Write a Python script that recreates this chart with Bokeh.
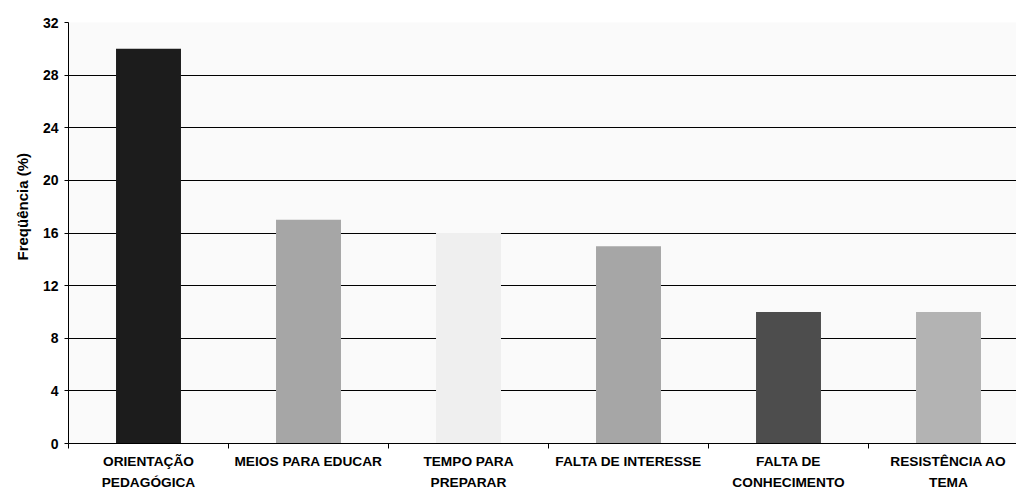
from bokeh.plotting import figure
from bokeh.models import Range1d, FixedTicker, Title, ColumnDataSource
from bokeh.embed import file_html
from bokeh.resources import INLINE

categories = ["ORIENTAÇÃO\nPEDAGÓGICA", "MEIOS PARA EDUCAR", "TEMPO PARA\nPREPARAR",
              "FALTA DE INTERESSE", "FALTA DE\nCONHECIMENTO", "RESISTÊNCIA AO\nTEMA"]
values = [30, 17, 16, 15, 10, 10]
colors = ["#1c1c1c", "#a6a6a6", "#efefef", "#a6a6a6", "#4d4d4d", "#b3b3b3"]
y_ticks = [0, 4, 8, 12, 16, 20, 24, 28, 32]
y_label = "Freqüência (%)"

n = len(categories)
xs = [i + 0.5 for i in range(n)]
src = ColumnDataSource(dict(x=xs, top=values, color=colors))

FONT = "Liberation Sans"

p = figure(width=1016, height=492, output_backend="svg", toolbar_location=None,
           x_range=Range1d(0, 5.925), y_range=Range1d(0, 32),
           min_border_left=68, min_border_right=0, min_border_top=22, min_border_bottom=46)
p.background_fill_color = "#fafafa"
p.border_fill_color = "white"
p.outline_line_color = None

p.vbar(x="x", top="top", width=0.406, fill_color="color", line_color=None, source=src)

# y axis
p.yaxis.ticker = FixedTicker(ticks=y_ticks)
p.yaxis.minor_tick_line_color = None
p.yaxis.major_tick_out = 4
p.yaxis.major_tick_in = 0
p.yaxis.axis_line_color = "black"
p.yaxis.major_tick_line_color = "black"
p.yaxis.major_label_standoff = 6
p.yaxis.major_label_text_font = FONT
p.yaxis.major_label_text_font_style = "bold"
p.yaxis.major_label_text_font_size = "14px"
p.yaxis.major_label_text_color = "black"

# x axis
p.xaxis.ticker = FixedTicker(ticks=xs, minor_ticks=list(range(n + 1)))
p.xaxis.major_label_overrides = {x: c for x, c in zip(xs, categories)}
p.xaxis.major_tick_out = 0
p.xaxis.major_tick_in = 0
p.xaxis.minor_tick_out = 5
p.xaxis.minor_tick_in = 0
p.xaxis.minor_tick_line_color = "black"
p.xaxis.axis_line_color = "black"
p.xaxis.major_label_standoff = 5
p.xaxis.major_label_text_font = FONT
p.xaxis.major_label_text_font_style = "bold"
p.xaxis.major_label_text_font_size = "13.7px"
p.xaxis.major_label_text_color = "black"
p.xaxis.major_label_text_line_height = 1.4

p.xgrid.grid_line_color = None
p.ygrid.grid_line_color = "black"
p.ygrid.grid_line_width = 1

t = Title(text=y_label, text_font=FONT, text_font_style="bold", text_font_size="15px",
          text_color="black", align="left", offset=183, standoff=18)
p.add_layout(t, "left")

open("out.html", "w").write(file_html(p, INLINE))
